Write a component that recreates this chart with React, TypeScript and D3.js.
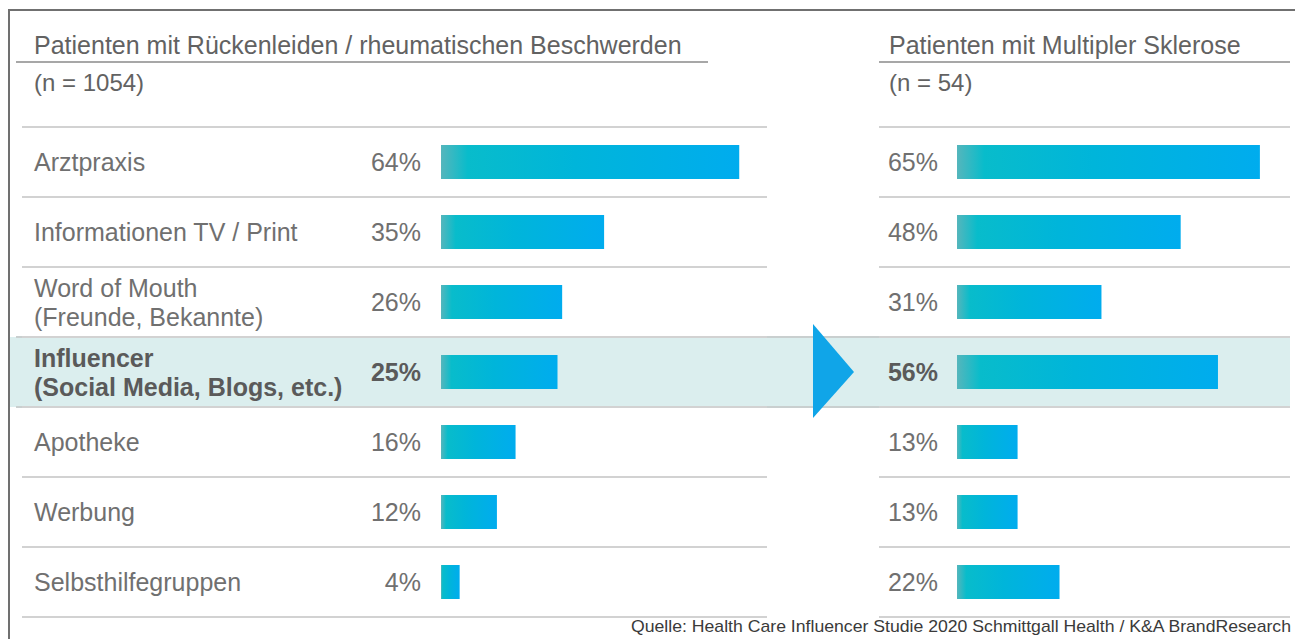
import React from 'react';
import * as d3 from 'd3';

// categories, top to bottom ("\n" = second line)
const categories = [
  'Arztpraxis',
  'Informationen TV / Print',
  'Word of Mouth\n(Freunde, Bekannte)',
  'Influencer\n(Social Media, Blogs, etc.)',
  'Apotheke',
  'Werbung',
  'Selbsthilfegruppen',
];
const backPainValues = [64, 35, 26, 25, 16, 12, 4];
const msValues = [65, 48, 31, 56, 13, 13, 22];
const highlighted = 'Influencer\n(Social Media, Blogs, etc.)';

const panelTitles = ['Patienten mit Rückenleiden / rheumatischen Beschwerden', 'Patienten mit Multipler Sklerose'];
const panelCounts = ['(n = 1054)', '(n = 54)'];
const source = 'Quelle: Health Care Influencer Studie 2020 Schmittgall Health / K&A BrandResearch';

const W = 1295;
const H = 639;
const FONT = '"Liberation Sans", Arial, Helvetica, sans-serif';
const TEXT = '#707070';

const panels = [
  { values: backPainValues, titleX: 34, titleLine: [16, 708], valueRight: 421, barX: 441, line: [22, 767], labels: true },
  { values: msValues, titleX: 889, titleLine: [879, 1290], valueRight: 938, barX: 957, line: [879, 1290], labels: false },
];

const App = () => {
  const y = d3.scaleBand<string>().domain(categories).range([127, 617]).paddingInner(0);
  const x = d3.scaleLinear().domain([0, 100]).range([0, 466]);
  const barH = 34;
  const hiTop = y(highlighted)!;
  const hiBottom = hiTop + y.bandwidth();
  const hiMid = hiTop + y.bandwidth() / 2;

  return (
    <svg width={W} height={H} style={{ position: 'absolute', left: 0, top: 0, background: '#fff' }} fontFamily={FONT}>
      <defs>
        <linearGradient id="barGrad" x1="0" x2="1" y1="0" y2="0">
          <stop offset="0" stopColor="#55b6bc" />
          <stop offset="0.09" stopColor="#08bccb" />
          <stop offset="0.45" stopColor="#00b5da" />
          <stop offset="1" stopColor="#00acee" />
        </linearGradient>
      </defs>

      {/* frame */}
      <path d={`M9,${H + 2}V10H${W + 2}`} fill="none" stroke="#707070" strokeWidth={2} />

      {/* highlighted row band */}
      <rect x={10} y={hiTop} width={1280} height={y.bandwidth()} fill="#dbeeee" />
      <line x1={16} x2={1290} y1={hiTop} y2={hiTop} stroke="#c9cfcf" strokeWidth={2} />
      <line x1={16} x2={1290} y1={hiBottom} y2={hiBottom} stroke="#c9cfcf" strokeWidth={2} />

      {/* arrow */}
      <path d={`M813,${hiMid - 48}L854,${hiMid}L813,${hiMid + 46}Z`} fill="#10a5e8" />

      {panels.map((p, pi) => (
        <g key={pi}>
          <text x={p.titleX} y={54} fontSize={25} fill="#626262">{panelTitles[pi]}</text>
          <line x1={p.titleLine[0]} x2={p.titleLine[1]} y1={62} y2={62} stroke="#8a8a8a" strokeWidth={1.6} />
          <text x={p.titleX} y={91} fontSize={24} fill="#626262">{panelCounts[pi]}</text>

          {[127, ...categories.map(c => y(c)! + y.bandwidth())].map((ly, i) => (
            <line key={i} x1={p.line[0]} x2={p.line[1]} y1={ly} y2={ly} stroke="#d2d2d2" strokeWidth={2} />
          ))}

          {categories.map((c, i) => {
            const cy = y(c)! + y.bandwidth() / 2;
            const bold = c === highlighted;
            const lines = c.split('\n');
            return (
              <g key={c}>
                {p.labels && lines.map((ln, li) => (
                  <text key={li} x={34} y={cy + (li - (lines.length - 1) / 2) * 29} dy="0.36em"
                    fontSize={25} fontWeight={bold ? 700 : 400} fill={bold ? '#5a5a5a' : TEXT}>{ln}</text>
                ))}
                <text x={p.valueRight} y={cy} dy="0.36em" textAnchor="end" fontSize={25}
                  fontWeight={bold ? 700 : 400} fill={bold ? '#5a5a5a' : TEXT}>{p.values[i]}%</text>
                <rect x={p.barX} y={cy - barH / 2} width={x(p.values[i])} height={barH} fill="url(#barGrad)" />
              </g>
            );
          })}
        </g>
      ))}

      <text x={1291} y={632} textAnchor="end" fontSize={17} fill="#3a3a3a"
        textLength={660} lengthAdjust="spacingAndGlyphs">{source}</text>
    </svg>
  );
};

export default App;
